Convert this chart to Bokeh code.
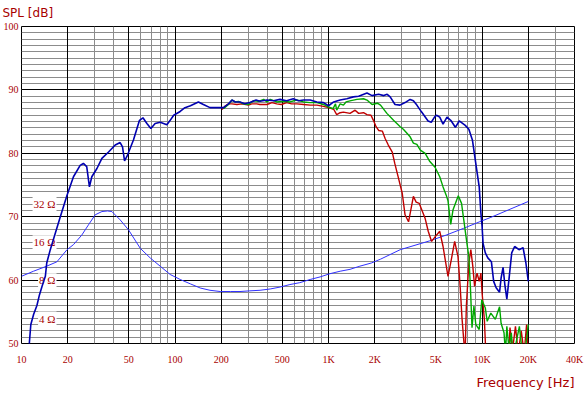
from bokeh.plotting import figure
from bokeh.models import Range1d, LogScale, FixedTicker, Grid, Label, LinearAxis, LogAxis, Title
from bokeh.embed import file_html
from bokeh.resources import INLINE

# ---------------- data ----------------
freq_blue = [11.2, 11.5, 12.0, 12.6, 13.1, 13.6, 14.3, 14.6, 15.4, 16.6, 17.9, 19.8, 21.8, 24.1, 25.3,
             26.6, 27.7, 28.7, 31.0, 33.4, 36.9, 40.8, 43.9, 45.5, 46.9, 48.6, 53.6, 58.7, 61.8, 65.6,
             69.6, 74.2, 80.1, 88.5, 93, 98, 108, 116, 126, 142, 153, 169, 187, 207, 223, 235, 247,
             265, 285, 307, 337, 358, 397, 438, 483, 533, 589, 637, 688, 759, 839, 927, 1000, 1080,
             1190, 1315, 1450, 1570, 1780, 1920, 2120, 2290, 2410, 2520, 2710, 2920, 3150, 3400, 3570,
             3760, 4040, 4450, 4670, 4900, 5050, 5300, 5570, 5910, 6300, 6700, 7100, 7770, 8200, 8650,
             9100, 9580, 9830, 10000, 10150, 10500, 10900, 11500, 11900, 12350, 13000, 13300, 13700,
             14070, 14500, 15000, 15600, 16300, 17400, 18500, 19300, 20000]
spl_blue = [49.5, 53.0, 54.6, 56.0, 57.7, 59.0, 60.6, 62.7, 64.8, 67.4, 70.0, 73.4, 76.3, 78.1, 78.4,
            77.9, 74.7, 76.3, 77.6, 79.2, 80.2, 81.3, 81.7, 81.0, 78.8, 79.5, 82.1, 85.2, 85.6, 84.7,
            83.9, 84.7, 84.9, 84.5, 85.2, 86.0, 86.6, 87.2, 87.5, 88.1, 87.7, 87.2, 87.2, 87.2, 87.8,
            88.4, 88.1, 88.1, 87.8, 88.0, 88.4, 88.2, 88.4, 88.3, 88.5, 88.3, 88.6, 88.3, 88.4, 88.4,
            88.1, 88.0, 87.5, 88.1, 88.4, 88.6, 88.9, 89.0, 89.5, 89.1, 89.3, 89.1, 89.3, 88.9, 87.7,
            87.6, 88.0, 88.5, 88.3, 87.6, 86.5, 85.1, 84.9, 85.7, 86.0, 85.7, 84.6, 85.7, 85.1, 84.1,
            85.1, 84.4, 83.8, 82.1, 78.4, 74.7, 70.5, 68.5, 65.8, 64.3, 63.5, 62.9, 59.8, 58.8, 58.1,
            60.3, 62.0, 59.3, 57.0, 60.3, 64.3, 65.3, 64.8, 65.1, 62.7, 59.8]

freq_green = [207, 223, 235, 247, 259, 278, 301, 325, 350, 378, 397, 417, 460, 510, 560, 620, 688, 760,
              840, 927, 1000, 1070, 1110, 1130, 1190, 1250, 1300, 1400, 1530, 1690, 1780, 1920, 2080,
              2180, 2400, 2650, 2930, 3070, 3400, 3570, 3760, 3960, 4260, 4570, 4940, 5300, 5570, 5840,
              6000, 6250, 6470, 7000, 7350, 7600, 7970, 8200, 8400, 8600, 8850, 9100, 9580, 9960, 10500,
              10800, 11400, 12200, 12700, 13000, 13300, 13900, 14200, 14500, 15000, 15500, 16000, 17500,
              18200, 19000, 20000]
spl_green = [87.05, 87.7, 88.4, 88.1, 88.2, 87.8, 87.7, 88.3, 88.2, 88.5, 88.1, 88.5, 88.1, 88.2, 88.1,
             88.4, 88.1, 88.0, 88.0, 87.7, 87.3, 87.05, 87.8, 86.8, 87.8, 87.6, 88.1, 88.3, 88.5, 88.6,
             88.4, 87.7, 87.9, 87.6, 86.3, 85.2, 84.2, 83.8, 82.6, 81.6, 81.4, 80.5, 80.0, 78.7, 77.8,
             76.3, 74.7, 73.4, 72.5, 68.8, 71.1, 73.3, 72.1, 69.5, 65.8, 63.7, 58.8, 52.5, 55.9, 53.0,
             52.2, 56.9, 55.6, 53.5, 54.8, 53.8, 55.1, 55.8, 53.2, 51.7, 48.5, 52.7, 49.0, 51.7, 48.0,
             52.7, 49.0, 48.5, 53.0]

freq_red = [202, 213, 223, 235, 253, 272, 301, 316, 340, 358, 397, 428, 460, 493, 533, 575, 620, 688,
            760, 840, 927, 1000, 1080, 1130, 1190, 1250, 1380, 1490, 1570, 1690, 1780, 1890, 1960, 2040,
            2120, 2240, 2340, 2450, 2600, 2700, 2820, 3020, 3150, 3320, 3570, 3720, 3900, 4260, 4460,
            4690, 4970, 5300, 5570, 5800, 6000, 6300, 6630, 6970, 7200, 7400, 7600, 7750, 7900, 8200,
            8450, 8700, 8940, 9100, 9280, 9580, 9830, 10000, 10350, 10600, 11000, 14800, 15200, 15800,
            16500, 17200, 18000, 18800, 19500, 20000]
spl_red = [86.9, 87.5, 87.8, 87.8, 87.7, 87.8, 87.6, 87.8, 87.8, 87.7, 87.7, 88.0, 87.8, 87.7, 88.0,
           87.8, 87.8, 87.7, 87.6, 87.6, 87.4, 87.2, 86.95, 86.1, 86.4, 86.5, 86.3, 86.8, 86.3, 86.4,
           86.1, 86.0, 85.2, 84.2, 83.6, 83.5, 82.3, 81.3, 80.2, 78.4, 76.6, 73.7, 70.3, 69.2, 73.2,
           72.3, 72.1, 69.7, 67.7, 66.1, 66.9, 67.7, 65.3, 62.7, 60.6, 63.2, 66.1, 63.7, 59.0, 54.0,
           50.5, 48.0, 55.9, 62.7, 64.8, 62.2, 59.0, 60.1, 61.1, 59.8, 61.1, 58.0, 53.8, 48.0, 46.0,
           46.0, 52.5, 49.0, 52.7, 48.5, 52.0, 48.5, 53.0, 48.0]

freq_imp = [10, 11.97, 14.6, 17.0, 19.8, 21.8, 24.7, 27.3, 30.2, 33.4, 36.3, 38.8, 43.9, 49.8, 59.4,
            69, 80, 93, 108, 126, 146, 169, 197, 229, 265, 307, 358, 417, 483, 560, 650, 760, 880,
            1020, 1190, 1380, 1600, 1900, 2180, 2930, 4570, 5840, 7600, 9830, 11400, 20000]
imp_ohm = [8.61, 9.44, 10.35, 11.2, 13.96, 15.3, 18.2, 21.9, 26.3, 27.9, 28.2, 27.9, 24.0, 20.0, 14.3,
           12.0, 10.35, 8.9, 8.13, 7.5, 6.96, 6.68, 6.53, 6.53, 6.53, 6.61, 6.68, 6.84, 7.08, 7.41,
           7.67, 8.13, 8.51, 9.02, 9.44, 9.77, 10.35, 10.96, 11.75, 13.96, 16.4, 18.2, 20.6, 23.4,
           25.1, 33.5]

x_major = [10, 20, 50, 100, 200, 500, 1000, 2000, 5000, 10000, 20000, 40000]
x_labels = ["10", "20", "50", "100", "200", "500", "1K", "2K", "5K", "10K", "20K", "40K"]
x_minor = [30, 40, 60, 70, 80, 90, 300, 400, 600, 700, 800, 900, 3000, 4000, 6000, 7000, 8000,
           9000, 30000]
y_major = [50, 60, 70, 80, 90, 100]
y_labels = ["50", "60", "70", "80", "90", "100"]
y_minor = [v for v in range(51, 100) if v % 10 != 0]
imp_marks = [4, 8, 16, 32]
imp_labels = ["4 \u03a9", "8 \u03a9", "16 \u03a9", "32 \u03a9"]

# ---------------- style ----------------
TXT = "#a80000"
GRAY = "#8c8c8c"

p = figure(width=585, height=395, x_axis_type="log",
           x_range=Range1d(10, 40000), y_range=Range1d(50, 100),
           x_axis_location=None, y_axis_location=None,
           output_backend="svg", toolbar_location=None,
           min_border_left=21, min_border_right=11, min_border_top=26, min_border_bottom=51)
p.outline_line_color = "black"
p.outline_line_width = 1
p.background_fill_color = "white"
p.border_fill_color = "white"

# title (y-axis name, top left)
p.title.text = "SPL [dB]"
p.title.align = "left"
p.title.vertical_align = "top"
p.title.offset = -19
p.title.standoff = 9
p.title.text_font = "DejaVu Sans"
p.title.text_font_size = "12px"
p.title.text_font_style = "normal"
p.title.text_color = TXT

# impedance scale: 20*log10(Z) aligned with dB grid
p.extra_y_ranges = {"imp": Range1d(10 ** ((50 - 41.9) / 20), 10 ** ((100 - 41.9) / 20))}
p.extra_y_scales = {"imp": LogScale()}

# axes (labels only)
yax = LinearAxis(ticker=FixedTicker(ticks=y_major, minor_ticks=[]),
                 major_label_overrides={v: t for v, t in zip(y_major, y_labels)},
                 axis_line_color=None, major_tick_line_color=None, minor_tick_line_color=None,
                 major_tick_in=0, major_tick_out=0, minor_tick_in=0, minor_tick_out=0,
                 major_label_standoff=3, major_label_text_font="Liberation Serif",
                 major_label_text_font_size="10px", major_label_text_color=TXT)
p.add_layout(yax, "left")
xax = LogAxis(ticker=FixedTicker(ticks=x_major, minor_ticks=[]),
              major_label_overrides={v: t for v, t in zip(x_major, x_labels)},
              axis_line_color=None, major_tick_line_color=None, minor_tick_line_color=None,
              major_tick_in=0, major_tick_out=0, minor_tick_in=0, minor_tick_out=0,
              major_label_standoff=10, major_label_text_font="Liberation Serif",
              major_label_text_font_size="10px", major_label_text_color=TXT)
p.add_layout(xax, "below")
p.add_layout(Title(text="Frequency [Hz]", align="right", standoff=11, text_font="DejaVu Sans",
                   text_font_size="13px", text_font_style="normal", text_color=TXT), "below")

# grids: minor first, then major
p.add_layout(Grid(dimension=0, ticker=FixedTicker(ticks=[], minor_ticks=x_minor),
                  grid_line_color=None, minor_grid_line_color=GRAY, minor_grid_line_width=1))
p.add_layout(Grid(dimension=1, ticker=FixedTicker(ticks=[], minor_ticks=y_minor),
                  grid_line_color=None, minor_grid_line_color=GRAY, minor_grid_line_width=1))
p.add_layout(Grid(dimension=0, ticker=FixedTicker(ticks=x_major, minor_ticks=[]),
                  grid_line_color="black", grid_line_width=1))
p.add_layout(Grid(dimension=1, ticker=FixedTicker(ticks=y_major, minor_ticks=[]),
                  grid_line_color="black", grid_line_width=1))

# impedance marks
for z, t in zip(imp_marks, imp_labels):
    p.add_layout(Label(x=10, y=z, y_range_name="imp", x_offset=35, text=t,
                       text_align="right", text_baseline="middle",
                       text_font="Liberation Serif", text_font_size="11px", text_color=TXT,
                       background_fill_color="white", padding=1, level="underlay"))

# curves
p.line(freq_imp, imp_ohm, y_range_name="imp", line_color="#3030ff", line_width=1)
p.line(freq_red, spl_red, line_color="#c00000", line_width=1.4)
p.line(freq_green, spl_green, line_color="#00a800", line_width=1.4)
p.line(freq_blue, spl_blue, line_color="#0000b0", line_width=1.6)

open("out.html", "w").write(file_html(p, INLINE))
